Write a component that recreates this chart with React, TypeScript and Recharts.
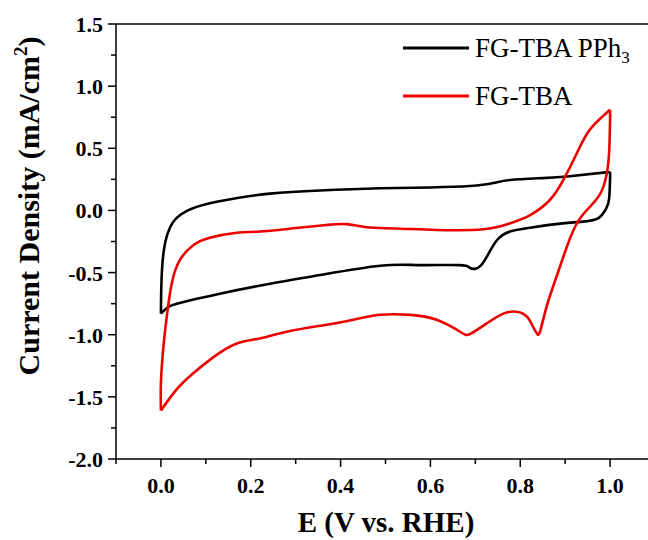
import React from "react";
import {
  LineChart,
  Line,
  XAxis,
  YAxis,
  ReferenceLine,
  Legend,
} from "recharts";

// potential (V vs RHE), current density (mA/cm2)
const pph3Anodic: [number, number][] = [
  [0.0, -0.83], [0.001, -0.6], [0.004, -0.4], [0.01, -0.25], [0.02, -0.14],
  [0.035, -0.06], [0.06, 0.0], [0.1, 0.05], [0.17, 0.1], [0.243, 0.135],
  [0.354, 0.16], [0.488, 0.178], [0.6, 0.185], [0.688, 0.196], [0.74, 0.22],
  [0.777, 0.245], [0.85, 0.26], [0.91, 0.275], [1.0, 0.31],
];
const pph3Cathodic: [number, number][] = [
  [1.0, 0.26], [0.998, 0.1], [0.992, 0.02], [0.975, -0.06], [0.94, -0.09],
  [0.88, -0.11], [0.82, -0.14], [0.777, -0.17], [0.748, -0.24], [0.726, -0.37],
  [0.712, -0.445], [0.7, -0.47], [0.687, -0.46], [0.665, -0.44], [0.577, -0.44],
  [0.488, -0.445], [0.354, -0.52], [0.243, -0.59], [0.131, -0.67], [0.057, -0.73],
  [0.02, -0.77], [0.0, -0.83],
];
const tbaAnodic: [number, number][] = [
  [0.0, -1.61], [0.0, -1.39], [0.005, -1.12], [0.013, -0.855], [0.024, -0.59],
  [0.042, -0.4], [0.072, -0.28], [0.109, -0.22], [0.169, -0.18], [0.22, -0.17],
  [0.295, -0.144], [0.369, -0.117], [0.414, -0.11], [0.458, -0.136], [0.52, -0.145],
  [0.614, -0.157], [0.718, -0.152], [0.777, -0.104], [0.822, -0.037], [0.866, 0.084],
  [0.896, 0.245], [0.926, 0.46], [0.955, 0.65], [1.0, 0.81],
];
const tbaCathodic: [number, number][] = [
  [1.0, 0.73], [0.999, 0.57], [0.996, 0.38], [0.985, 0.19], [0.963, 0.06],
  [0.93, -0.08], [0.904, -0.29], [0.881, -0.53], [0.859, -0.77], [0.844, -0.976],
  [0.837, -0.99], [0.829, -0.94], [0.815, -0.855], [0.792, -0.815], [0.762, -0.83],
  [0.725, -0.91], [0.688, -0.995], [0.666, -0.976], [0.614, -0.88], [0.555, -0.84],
  [0.488, -0.84], [0.428, -0.88], [0.369, -0.92], [0.28, -0.976], [0.22, -1.03],
  [0.169, -1.07], [0.117, -1.18], [0.072, -1.31], [0.035, -1.44], [0.0, -1.61],
];

const xTicks = [-0.1, 0, 0.1, 0.2, 0.3, 0.4, 0.5, 0.6, 0.7, 0.8, 0.9, 1.0, 1.1];
const yTicks = [-2, -1.75, -1.5, -1.25, -1, -0.75, -0.5, -0.25, 0, 0.25, 0.5, 0.75, 1, 1.25, 1.5];

const toPoints = (pts: [number, number][]) => pts.map(([x, y]) => ({ x, y }));
// each sweep drawn as its own smooth branch; the reverse sweep starts where the forward one ends
const branches = [
  { key: "pph3-f", color: "#000", data: toPoints(pph3Anodic) },
  { key: "pph3-r", color: "#000", data: toPoints([pph3Anodic[pph3Anodic.length - 1], ...pph3Cathodic]) },
  { key: "tba-f", color: "#ee0000", data: toPoints(tbaAnodic) },
  { key: "tba-r", color: "#ee0000", data: toPoints([tbaAnodic[tbaAnodic.length - 1], ...tbaCathodic]) },
];

const FONT = '"Liberation Serif", "Times New Roman", Times, serif';

const isMajor = (v: number, step: number) =>
  Math.abs(v / step - Math.round(v / step)) < 1e-6;

const tickText = { fontFamily: FONT, fontWeight: 700, fontSize: 22 };

const XTick = (props: any) => {
  const { x, y, payload } = props;
  const v = payload.value;
  const major = isMajor(v, 0.2);
  return (
    <g>
      <line x1={x} x2={x} y1={y} y2={y + (major ? 8 : 5)} stroke="#000" strokeWidth={1.5} />
      {major && (
        <text x={x} y={y + 34} textAnchor="middle" style={tickText} fill="#000">
          {v.toFixed(1)}
        </text>
      )}
    </g>
  );
};

const YTick = (props: any) => {
  const { x, y, payload } = props;
  const v = payload.value;
  const major = isMajor(v, 0.5);
  return (
    <g>
      <line x1={x - (major ? 8 : 5)} x2={x} y1={y} y2={y} stroke="#000" strokeWidth={1.5} />
      {major && (
        <text x={x - 13} y={y + 8} textAnchor="end" style={tickText} fill="#000">
          {v.toFixed(1)}
        </text>
      )}
    </g>
  );
};

const XTitle = () => (
  <text x={386} y={532} textAnchor="middle" style={{ fontFamily: FONT, fontWeight: 700, fontSize: 29 }} fill="#000">
    E (V vs. RHE)
  </text>
);

const YTitle = () => (
  <text
    x={39}
    y={206}
    transform="rotate(-90 39 206)"
    textAnchor="middle"
    style={{ fontFamily: FONT, fontWeight: 700, fontSize: 30 }}
    fill="#000"
  >
    Current Density (mA/cm<tspan dy={-12} style={{ fontSize: 19 }}>2</tspan>
    <tspan dy={12}>)</tspan>
  </text>
);

const legendText = { fontFamily: FONT, fontWeight: 400, fontSize: 27 };

const CvLegend = () => (
  <svg width={242} height={80} style={{ display: "block", overflow: "visible" }}>
    <line x1={0} x2={66} y1={10} y2={10} stroke="#000" strokeWidth={3} />
    <text x={72} y={19} style={legendText} fill="#000">
      FG-TBA PPh<tspan dy={6} style={{ fontSize: 17 }}>3</tspan>
    </text>
    <line x1={0} x2={66} y1={58} y2={58} stroke="#ee0000" strokeWidth={3} />
    <text x={72} y={67} style={legendText} fill="#000">
      FG-TBA
    </text>
  </svg>
);

export default function App() {
  return (
    <div style={{ width: 648, height: 540, overflow: "hidden", background: "#fff" }}>
      <style>{"body{margin:0;overflow:hidden}"}</style>
      <LineChart width={700} height={540} margin={{ top: 24, right: 45, left: 0, bottom: 0 }}>
        <XAxis
          type="number"
          dataKey="x"
          domain={[-0.1, 1.1]}
          ticks={xTicks}
          interval={0}
          allowDataOverflow
          height={81}
          tickSize={0}
          tickMargin={0}
          tickLine={false}
          tick={<XTick />}
          axisLine={{ stroke: "#000", strokeWidth: 1.5 }}
          label={<XTitle />}
        />
        <YAxis
          type="number"
          dataKey="y"
          domain={[-2, 1.5]}
          ticks={yTicks}
          interval={0}
          allowDataOverflow
          width={116}
          tickSize={0}
          tickMargin={0}
          tickLine={false}
          tick={<YTick />}
          axisLine={{ stroke: "#000", strokeWidth: 1.5 }}
          label={<YTitle />}
        />
        <ReferenceLine y={1.5} stroke="#000" strokeWidth={1.5} />
        <ReferenceLine x={1.1} stroke="#000" strokeWidth={1.5} />
        <Legend
          layout="horizontal"
          verticalAlign="middle"
          align="center"
          content={<CvLegend />}
          wrapperStyle={{ position: "absolute", left: 403, top: 38, width: 242 }}
        />
        {branches.map((b) => (
          <Line
            key={b.key}
            data={b.data}
            dataKey="y"
            type="natural"
            stroke={b.color}
            strokeWidth={2.6}
            dot={false}
            isAnimationActive={false}
            legendType="none"
          />
        ))}
      </LineChart>
    </div>
  );
}
